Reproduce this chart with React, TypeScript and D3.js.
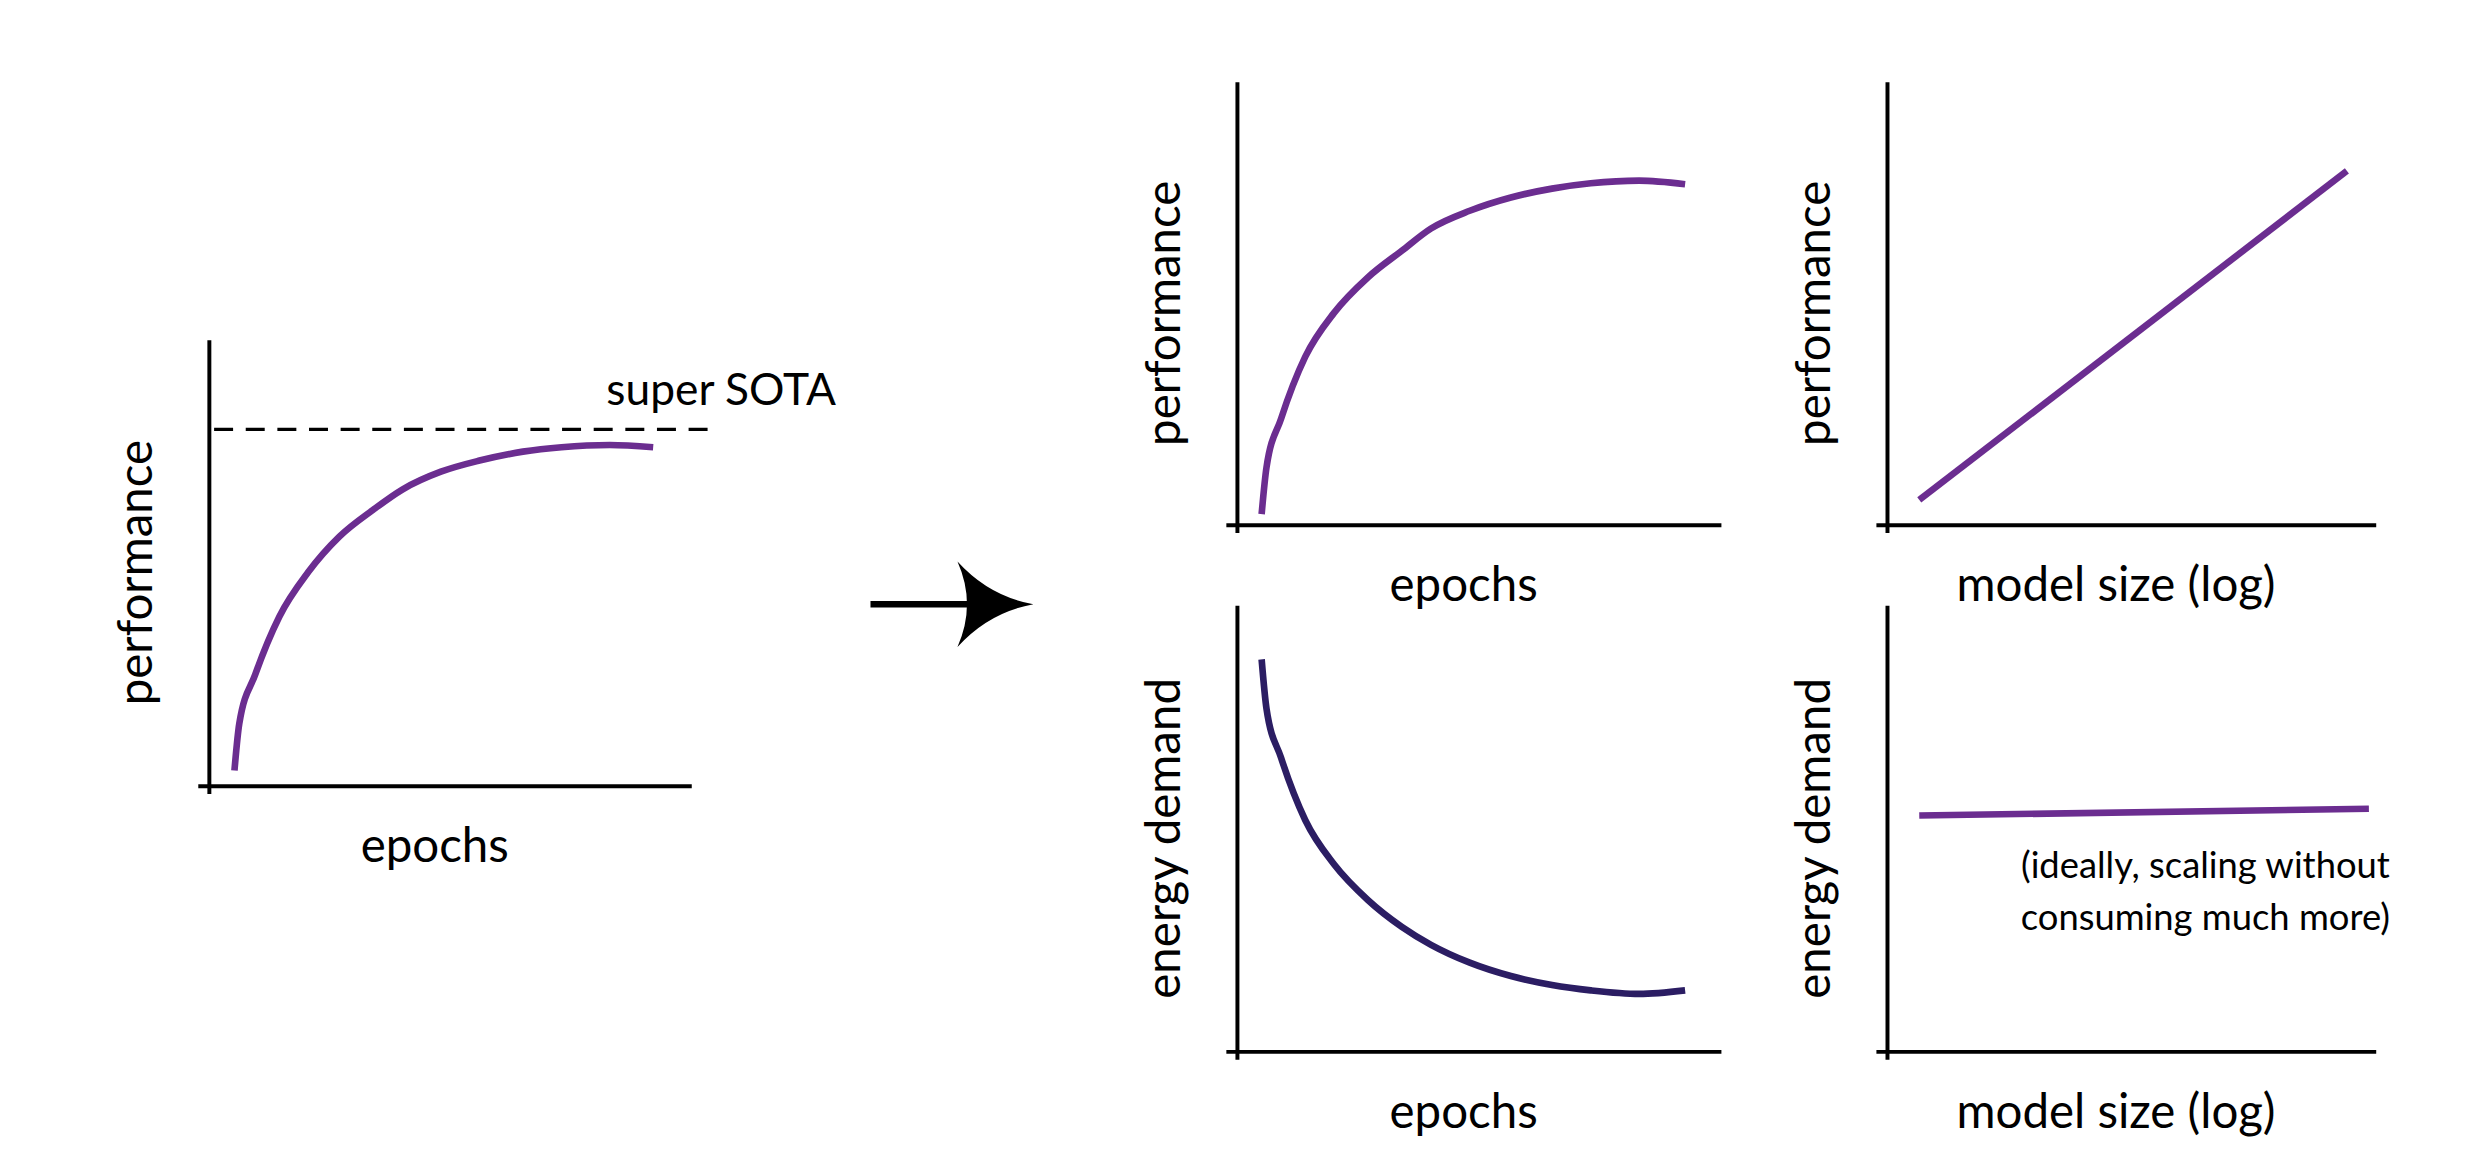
import * as d3 from "d3";

// Layout is drawn in a 1568x741 design space, scaled to 2481x1172.
const W = 1568;
const H = 741;

const PURPLE = "#6b2d90";
const NAVY = "#2b1d63";
const FONT = "'Lato', 'Open Sans', sans-serif";

// curve data (x in 0..10 axis units, y in 0..10)
const epochs = [0.5, 0.6, 0.9, 1.4, 2.0, 2.7, 3.4, 4.0, 4.8, 5.65, 6.5, 7.3, 8.3, 9.25];
const perfTop = [0.25, 1.3, 2.4, 3.8, 4.8, 5.6, 6.2, 6.7, 7.1, 7.4, 7.6, 7.72, 7.78, 7.7];
const energyBottom = [8.8, 7.7, 6.6, 5.2, 4.2, 3.4, 2.8, 2.4, 2.0, 1.7, 1.5, 1.38, 1.3, 1.38];
const epochsLeft = [0.52, 0.62, 0.95, 1.45, 2.05, 2.7, 3.4, 4.0, 4.8, 5.6, 6.5, 7.3, 8.3, 9.2];
const perfLeft = [0.35, 1.4, 2.5, 3.8, 4.8, 5.6, 6.2, 6.65, 7.05, 7.3, 7.5, 7.6, 7.65, 7.6];
const sizeLog = [0.65, 9.4];
const perfSize = [0.57, 8.0];
const sizeLogB = [0.65, 9.85];
const energySize = [5.3, 5.45];
const SOTA = 8.0;

interface Panel {
  x0: number; x1: number; yTop: number; yBot: number;
  ylabel: string; xlabel: string;
}

const panels: Record<string, Panel> = {
  left: { x0: 127, x1: 432, yTop: 210, yBot: 492, ylabel: "performance", xlabel: "epochs" },
  tm: { x0: 777, x1: 1083, yTop: 47, yBot: 327, ylabel: "performance", xlabel: "epochs" },
  tr: { x0: 1188, x1: 1497, yTop: 47, yBot: 327, ylabel: "performance", xlabel: "model size (log)" },
  bm: { x0: 777, x1: 1083, yTop: 378, yBot: 660, ylabel: "energy demand", xlabel: "epochs" },
  br: { x0: 1188, x1: 1497, yTop: 378, yBot: 660, ylabel: "energy demand", xlabel: "model size (log)" },
};

function scales(p: Panel) {
  const x = d3.scaleLinear().domain([0, 10]).range([p.x0, p.x1]);
  const y = d3.scaleLinear().domain([0, 10]).range([p.yBot, p.yTop]);
  return { x, y };
}

function Frame({ p }: { p: Panel }) {
  const cx = p.x0 - 47 - 12;
  const cy = (p.yTop + p.yBot) / 2 + 6;
  return (
    <g>
      <line x1={p.x0} x2={p.x0} y1={p.yTop} y2={p.yBot + 5} stroke="#000" strokeWidth={2.5} />
      <line x1={p.x0 - 7} x2={p.x1} y1={p.yBot} y2={p.yBot} stroke="#000" strokeWidth={2.5} />
      <text transform={`translate(${cx + 12},${cy}) rotate(-90)`} textAnchor="middle"
        fontSize={30} fontFamily={FONT} dy="0.35em">{p.ylabel}</text>
      <text x={(p.x0 + p.x1) / 2 - 10} y={p.yBot + 48} textAnchor="middle"
        fontSize={30} fontFamily={FONT}>{p.xlabel}</text>
    </g>
  );
}

function Curve({ p, xs, ys, color }: { p: Panel; xs: number[]; ys: number[]; color: string }) {
  const { x, y } = scales(p);
  const line = d3.line<number>().x((_, i) => x(xs[i])).y((d) => y(d)).curve(d3.curveMonotoneX);
  return <path d={line(ys) ?? ""} fill="none" stroke={color} strokeWidth={4.2} strokeLinecap="butt" />;
}

export default function App() {
  const L = panels.left;
  const { y: yl } = scales(L);
  return (
    <svg width={2481} height={1172} viewBox={`0 0 ${W} ${H}`} style={{ display: "block", background: "#fff" }}>
      <Frame p={L} />
      <line x1={130} x2={445} y1={yl(SOTA)} y2={yl(SOTA)} stroke="#000" strokeWidth={2} strokeDasharray="12 8" />
      <text x={378} y={251} fontSize={28} fontFamily={FONT}>super SOTA</text>
      <Curve p={L} xs={epochsLeft} ys={perfLeft} color={PURPLE} />

      {/* arrow */}
      <line x1={545} x2={615} y1={377} y2={377} stroke="#000" strokeWidth={4} />
      <path d="M600,350 Q620,372 648,377 Q620,382 600,404 Q612,377 600,350 Z" fill="#000" />

      <Frame p={panels.tm} />
      <Curve p={panels.tm} xs={epochs} ys={perfTop} color={PURPLE} />

      <Frame p={panels.tr} />
      <Curve p={panels.tr} xs={sizeLog} ys={perfSize} color={PURPLE} />

      <Frame p={panels.bm} />
      <Curve p={panels.bm} xs={epochs} ys={energyBottom} color={NAVY} />

      <Frame p={panels.br} />
      <Curve p={panels.br} xs={sizeLogB} ys={energySize} color={PURPLE} />
      <text x={1389} y={550} textAnchor="middle" fontSize={23} fontFamily={FONT}>(ideally, scaling without</text>
      <text x={1389} y={583} textAnchor="middle" fontSize={23} fontFamily={FONT}>consuming much more)</text>
    </svg>
  );
}
